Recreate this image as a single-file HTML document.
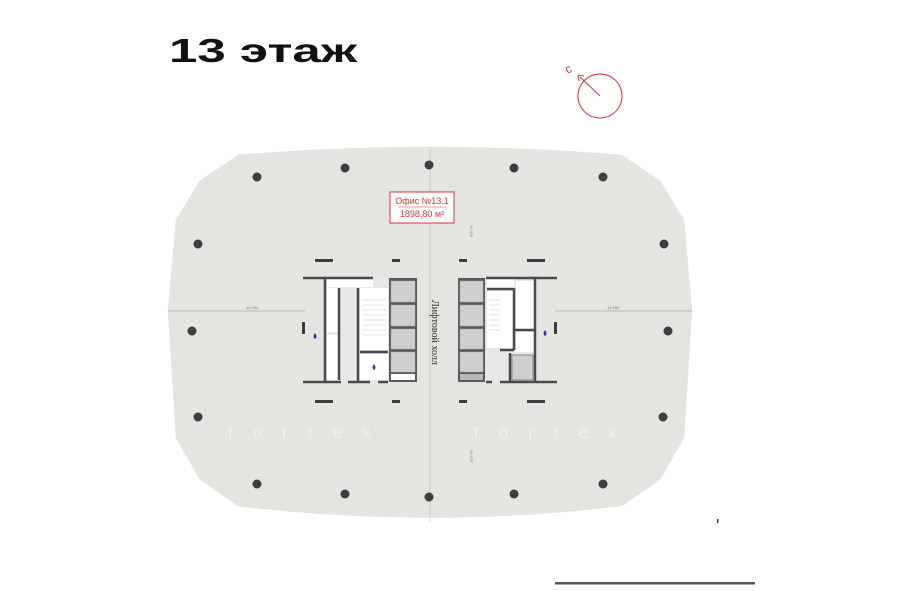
<!DOCTYPE html>
<html><head><meta charset="utf-8"><style>
html,body{margin:0;padding:0;background:#fff;}
body{width:900px;height:604px;overflow:hidden;position:relative;font-family:"Liberation Sans",sans-serif;}
</style></head><body>
<svg width="900" height="604" viewBox="0 0 900 604" xmlns="http://www.w3.org/2000/svg" style="position:absolute;left:0;top:0">
<text x="169" y="62" font-family="Liberation Sans, DejaVu Sans, sans-serif" font-weight="bold" font-size="33" fill="#111" textLength="188" lengthAdjust="spacingAndGlyphs">13 этаж</text>
<!-- compass -->
<circle cx="600" cy="96" r="22" fill="none" stroke="#d33" stroke-width="1"/>
<line x1="600" y1="96" x2="580" y2="77" stroke="#d33" stroke-width="1"/>
<path d="M578 75 l6 1 M578 75 l1 6" stroke="#d33" stroke-width="1" fill="none"/>
<text x="565" y="72" font-size="12" fill="#d33" transform="rotate(-30 570 68)">с</text>
<!-- floor -->
<path d="M238,154 Q430,138 622,154 L661,180 L685,220 L693,310 L685,438 L661,480 L622,507 Q430,530 238,507 L199,480 L175,438 L167,310 L175,220 L199,180 Z" fill="#e4e4e1" stroke="#fff" stroke-width="1.5"/>
<line x1="430" y1="150" x2="430" y2="522" stroke="#bdbdbb" stroke-width="0.7"/>
<line x1="168" y1="311" x2="305" y2="311" stroke="#aaa" stroke-width="0.7"/>
<line x1="555" y1="311" x2="692" y2="311" stroke="#aaa" stroke-width="0.7"/>
<text x="246" y="309" font-size="4" fill="#777">14.994</text>
<text x="607" y="309" font-size="4" fill="#777">14.994</text>
<!-- columns -->
<g fill="#3e3e42">
<circle cx="257" cy="177" r="4.5"/><circle cx="345" cy="168" r="4.5"/><circle cx="429" cy="165" r="4.5"/><circle cx="514" cy="168" r="4.5"/><circle cx="603" cy="177" r="4.5"/>
<circle cx="198" cy="244" r="4.5"/><circle cx="664" cy="244" r="4.5"/>
<circle cx="192" cy="331" r="4.5"/><circle cx="668" cy="331" r="4.5"/>
<circle cx="198" cy="417" r="4.5"/><circle cx="663" cy="417" r="4.5"/>
<circle cx="257" cy="484" r="4.5"/><circle cx="345" cy="494" r="4.5"/><circle cx="429" cy="497" r="4.5"/><circle cx="514" cy="494" r="4.5"/><circle cx="603" cy="484" r="4.5"/>
</g>
<!-- bars -->
<g fill="#3e3e42">
<rect x="315" y="259" width="18" height="3"/><rect x="392" y="259" width="8" height="3"/><rect x="459" y="259" width="8" height="3"/><rect x="527" y="259" width="18" height="3"/>
<rect x="315" y="400" width="18" height="3"/><rect x="392" y="400" width="8" height="3"/><rect x="459" y="400" width="8" height="3"/><rect x="527" y="400" width="18" height="3"/>
<rect x="302" y="322" width="3" height="12"/><rect x="554" y="322" width="3" height="12"/>
</g>
<!-- core left -->
<g>
<rect x="326" y="278" width="62" height="104" fill="#e8e8e6"/>
<rect x="327" y="279" width="46" height="8" fill="#fff"/>
<rect x="327" y="288" width="12" height="44" fill="#fff"/>
<rect x="327" y="335" width="12" height="45" fill="#fff"/>
<rect x="360" y="288" width="28" height="62" fill="#fff"/>
<g stroke="#ccc" stroke-width="0.6"><line x1="362" y1="300" x2="386" y2="300"/><line x1="362" y1="305" x2="386" y2="305"/><line x1="362" y1="310" x2="386" y2="310"/><line x1="362" y1="315" x2="386" y2="315"/><line x1="362" y1="320" x2="386" y2="320"/><line x1="362" y1="325" x2="386" y2="325"/><line x1="362" y1="330" x2="386" y2="330"/><line x1="362" y1="335" x2="386" y2="335"/></g>
<rect x="360" y="354" width="28" height="26" fill="#fff"/>
<path d="M303 278 H373 M303 382 H341 M348 382 H370 M378 382 H388 M325 278 V382 M339 288 V380 M358 288 V382 M360 352 H388" stroke="#4a4a4e" stroke-width="2.5" fill="none"/>
<rect x="389" y="278" width="28" height="104" fill="#5a5a5e"/>
<g fill="#cfcfd1" stroke="#aaa" stroke-width="0.5">
<rect x="391" y="281" width="24" height="21"/><rect x="391" y="305" width="24" height="21"/><rect x="391" y="329" width="24" height="20"/><rect x="391" y="352" width="24" height="20"/>
</g>
<rect x="391" y="374" width="24" height="6" fill="#fff"/>
</g>
<!-- core right -->
<g>
<rect x="486" y="278" width="50" height="104" fill="#e8e8e6"/>
<rect x="487" y="279" width="27" height="9" fill="#fff"/>
<rect x="487" y="291" width="26" height="57" fill="#fff"/>
<g stroke="#ccc" stroke-width="0.6"><line x1="489" y1="300" x2="500" y2="300"/><line x1="489" y1="305" x2="500" y2="305"/><line x1="489" y1="310" x2="500" y2="310"/><line x1="489" y1="315" x2="500" y2="315"/><line x1="489" y1="320" x2="500" y2="320"/><line x1="489" y1="325" x2="500" y2="325"/><line x1="489" y1="330" x2="500" y2="330"/></g>
<rect x="516" y="281" width="18" height="48" fill="#fff"/>
<rect x="516" y="332" width="18" height="20" fill="#fff"/>
<rect x="512" y="355" width="21" height="25" fill="#cfcfd1" stroke="#888" stroke-width="1"/>
<path d="M486 278 H557 M486 382 H492 M500 382 H557 M535 278 V382 M514 288 V350 M487 289 H514 M514 330 H535 M500 350 H514 M510 353 V382" stroke="#4a4a4e" stroke-width="2.5" fill="none"/>
<rect x="458" y="278" width="27" height="104" fill="#5a5a5e"/>
<g fill="#cfcfd1" stroke="#aaa" stroke-width="0.5">
<rect x="460" y="281" width="23" height="21"/><rect x="460" y="305" width="23" height="21"/><rect x="460" y="329" width="23" height="20"/><rect x="460" y="352" width="23" height="20"/>
</g>
<rect x="460" y="374" width="23" height="6" fill="#b8b8ba"/>
</g>
<text x="432" y="300" font-size="10" fill="#333" transform="rotate(90 432 300)" font-family="Liberation Serif, serif">Лифтовой холл</text>
<g fill="#1f3fa5">
<path d="M315 333 q3 4 0 6 q-3 -2 0 -6z"/>
<path d="M374 364 q3 4 0 6 q-3 -2 0 -6z"/>
<path d="M545 330 q3 4 0 6 q-3 -2 0 -6z"/>
</g>
<!-- label -->
<rect x="390" y="192" width="64" height="31" fill="#fff" stroke="#d33" stroke-width="1"/>
<line x1="398" y1="207" x2="446" y2="207" stroke="#d33" stroke-width="0.6"/>
<text x="422" y="204" font-size="9" fill="#d33" text-anchor="middle">Офис №13.1</text>
<text x="422" y="217" font-size="9" fill="#d33" text-anchor="middle">1898,80 м²</text>
<text x="470" y="225" font-size="4" fill="#888" transform="rotate(90 470 225)">16.425</text>
<text x="470" y="450" font-size="4" fill="#888" transform="rotate(90 470 450)">16.425</text>
<!-- watermark -->
<g fill="#fff" opacity="0.45" font-size="17" letter-spacing="20">
<text x="228" y="438">fortex</text><text x="474" y="438">fortex</text>
</g>
<rect x="717" y="519" width="1.5" height="4" fill="#444"/>
<rect x="555" y="582" width="200" height="2.5" fill="#555"/>
</svg>
</body></html>
